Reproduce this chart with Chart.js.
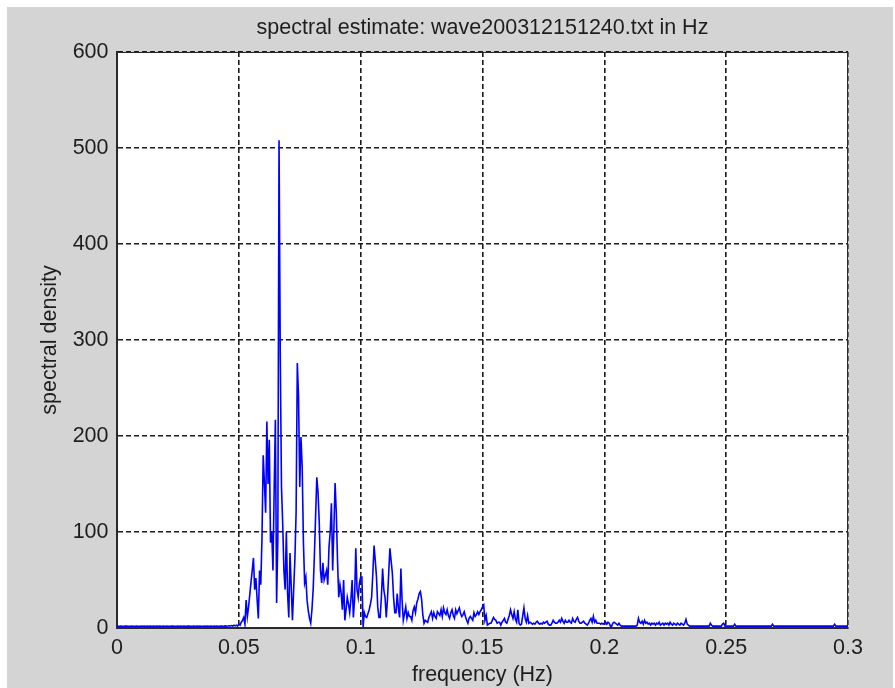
<!DOCTYPE html>
<html>
<head>
<meta charset="utf-8">
<title>spectral estimate</title>
<script src="https://cdn.jsdelivr.net/npm/chart.js@4/dist/chart.umd.min.js"></script>
<style>
  html, body { margin: 0; padding: 0; background: #ffffff; }
  canvas { display: block; }
</style>
</head>
<body>
<canvas id="spectrum" width="895" height="688"></canvas>
<script>
// Spacing of the spectral estimates along the frequency axis (Hz)
const freqStep = 0.0005;

// Spectral density, 0 – 0.05 Hz (quiet band below the swell)
const densityLow = [
  1.9,
  1.8,1.9,2.0,1.9,1.8,1.9,2.0,2.1,1.9,1.8,1.9,2.0,1.9,1.8,1.9,2.0,1.9,1.8,1.9,2.0,
  1.9,2.0,1.8,1.9,2.0,1.9,2.1,1.9,1.8,2.0,1.9,1.8,2.0,1.9,2.0,1.8,1.9,2.0,1.9,1.8,
  2.0,1.9,1.8,1.9,2.1,2.0,1.9,1.8,1.9,2.0,1.9,2.0,1.8,1.9,2.0,1.9,1.8,2.0,2.1,1.9,
  1.8,1.9,2.0,1.9,1.8,2.0,1.9,2.0,1.9,1.8,1.9,2.0,1.9,2.1,1.9,1.8,2.0,1.9,1.8,2.0,
  1.9,2.0,1.9,1.8,2.0,2.1,1.9,2.0,2.2,1.9,2.0,2.3,2.1,2.5,2.0,3.0,2.2,3.0,2.0,4.0
];

// Spectral density, 0.0505 – 0.13 Hz (main swell peak)
const densityPeak = [
  3,6,8,11,4,29,12,22,35,48,60,73,40,52,30,10,60,45,94,180,
  151,120,215,150,196,89,100,60,144,217,26,92,508,284,147,109,60,40,100,36,
  11,78,43,8,40,71,120,276,241,147,199,168,90,47,53,29,18,10,5,19,
  40,75,116,157,141,110,60,47,68,50,55,60,45,84,100,130,60,102,151,120,
  70,32,45,36,19,50,8,19,32,25,16,30,50,11,30,83,40,32,47,53,
  53,1,16,12,11,15,19,25,32,57,86,70,53,22,11,11,32,62,40,32,
  11,30,57,83,70,57,32,16,16,36,20,11,62,29,8,15,22,10,16,12,
  12,8,18,22,16,26,30,36,38,30,14,5,8,7,6,11,14,17,10,16
];

// Spectral density, 0.1305 – 0.3 Hz (high-frequency tail)
const densityTail = [
  12,10,17,15,13,19,12,21,16,14,19,13,10,16,19,13,10,19,15,18,
  21,15,12,14,17,12,8,5,10,12,10,8,16,12,14,17,14,17,19,22,
  24,8,13,3,4,5,5,8,11,9,8,5,6,6,3,6,8,10,6,5,
  9,13,19,14,10,17,9,6,19,5,3,4,13,21,10,6,13,5,6,5,
  4,5,4,6,7,5,4,5,4,6,5,6,7,4,3,3,5,8,6,5,
  5,6,8,6,10,7,5,8,6,6,8,6,5,10,7,6,9,11,7,5,
  5,6,7,5,4,3,5,8,10,6,12,6,8,5,5,5,4,5,4,5,
  6,4,6,5,2,2,5,6,5,4,3,5,3,2,2,2,2,2,2,2,
  2,2,2,2,2,2,3,10,6,5,7,4,8,5,6,4,5,3,5,4,
  5,3,5,4,6,3,4,5,3,5,4,5,3,6,4,3,5,4,3,5,
  4,3,5,4,3,5,9,4,3,2,2,2,2,2,2,2,2,2,2,2,
  2,2,2,2,2,2,5,3,2,2,2,2,2,2,2,2,4,5,2,2,
  2,2,2,2,2,2,4,2,2,2,2,2,2,2,2,2,2,2,2,2,
  2,2,2,2,2,2,2,2,2,2,2,2,2,2,2,2,2,4,2,2,
  2,2,2,2,2,2,2,2,2,2,2,2,2,2,2,2,2,2,2,2,
  2,2,2,2,2,2,2,2,2,2,2,2,2,2,2,2,2,2,2,2,
  2,2,2,2,2,2,2,2,4,2,2,2,2,2,2,2,2,2,2,2
];

const xTickValues = [0, 0.05, 0.1, 0.15, 0.2, 0.25, 0.3];
const xTickLabels = ['0', '0.05', '0.1', '0.15', '0.2', '0.25', '0.3'];
const yTickValues = [0, 100, 200, 300, 400, 500, 600];
const yTickLabels = ['0', '100', '200', '300', '400', '500', '600'];

const titleText = 'spectral estimate: wave200312151240.txt in Hz';
const xTitle = 'frequency (Hz)';
const yTitle = 'spectral density';

const density = densityLow.concat(densityPeak, densityTail);
const points = density.map((v, i) => ({ x: +(i * freqStep).toFixed(4), y: v }));

const FONT = 'Liberation Sans, Arial, sans-serif';
const TEXT = '#1e1e1e';
const FIG_GREY = '#d4d4d4';
const GRID = '#1a1a1a';

// Figure window: grey panel with a white axes box
const figurePanel = {
  id: 'figurePanel',
  beforeDraw(chart) {
    const { ctx, chartArea: a } = chart;
    ctx.save();
    ctx.fillStyle = '#ffffff';
    ctx.fillRect(0, 0, chart.width, chart.height);
    ctx.fillStyle = FIG_GREY;
    ctx.fillRect(7, 7, chart.width - 9, chart.height - 7);
    ctx.fillStyle = '#ffffff';
    ctx.fillRect(a.left, a.top, a.right - a.left, a.bottom - a.top);
    ctx.restore();
  },
  afterDraw(chart) {
    // closing edges of the axes box (top and right)
    const { ctx, chartArea: a } = chart;
    ctx.save();
    ctx.strokeStyle = '#2a2a2a';
    ctx.lineWidth = 1;
    ctx.beginPath();
    ctx.moveTo(a.left, Math.round(a.top) + 0.5);
    ctx.lineTo(a.right, Math.round(a.top) + 0.5);
    ctx.moveTo(Math.round(a.right) - 0.5, a.top);
    ctx.lineTo(Math.round(a.right) - 0.5, a.bottom);
    ctx.stroke();
    ctx.restore();
  }
};

new Chart(document.getElementById('spectrum'), {
  type: 'line',
  data: {
    datasets: [{
      data: points,
      borderColor: '#0000ff',
      borderWidth: 1.6,
      pointRadius: 0,
      tension: 0,
      fill: false
    }]
  },
  plugins: [figurePanel],
  options: {
    responsive: false,
    animation: false,
    devicePixelRatio: 1,
    layout: { padding: { top: 0, right: 47, bottom: 0, left: 0 } },
    plugins: {
      legend: { display: false },
      tooltip: { enabled: false }
    },
    scales: {
      // top axis carries only the plot title, centred over the axes box
      top: {
        type: 'linear',
        position: 'top',
        min: 0,
        max: 0.3,
        afterFit(scale) { scale.height = 52; },
        ticks: { display: false },
        grid: { display: false, drawTicks: false },
        border: { display: false },
        title: {
          display: true,
          text: titleText,
          color: TEXT,
          font: { family: FONT, size: 21.5 },
          padding: { top: 15.5, bottom: 0 }
        }
      },
      x: {
        type: 'linear',
        position: 'bottom',
        min: 0,
        max: 0.3,
        afterBuildTicks(scale) { scale.ticks = xTickValues.map(v => ({ value: v })); },
        afterFit(scale) { scale.height = 60; },
        ticks: {
          color: TEXT,
          padding: 7,
          maxRotation: 0,
          autoSkip: false,
          font: { family: FONT, size: 21.5 },
          callback: (v) => xTickLabels[xTickValues.indexOf(+v.toFixed(2))] ?? ''
        },
        grid: { color: GRID, lineWidth: 1.6, drawTicks: false },
        border: { display: true, color: '#2a2a2a', width: 2, dash: [5, 3] },
        title: {
          display: true,
          text: xTitle,
          color: TEXT,
          font: { family: FONT, size: 21.5 },
          padding: { top: 0, bottom: 0 }
        }
      },
      y: {
        type: 'linear',
        min: 0,
        max: 600,
        afterBuildTicks(scale) { scale.ticks = yTickValues.map(v => ({ value: v })); },
        afterFit(scale) { scale.width = 117; },
        ticks: {
          color: TEXT,
          padding: 8.5,
          autoSkip: false,
          font: { family: FONT, size: 21.5 },
          callback: (v) => yTickLabels[yTickValues.indexOf(v)] ?? ''
        },
        grid: { color: GRID, lineWidth: 1.6, drawTicks: false },
        border: { display: true, color: '#2a2a2a', width: 2, dash: [5, 3] },
        title: {
          display: true,
          text: yTitle,
          color: TEXT,
          font: { family: FONT, size: 21.5 },
          padding: { top: 37, bottom: 0 }
        }
      }
    }
  }
});
</script>
</body>
</html>
